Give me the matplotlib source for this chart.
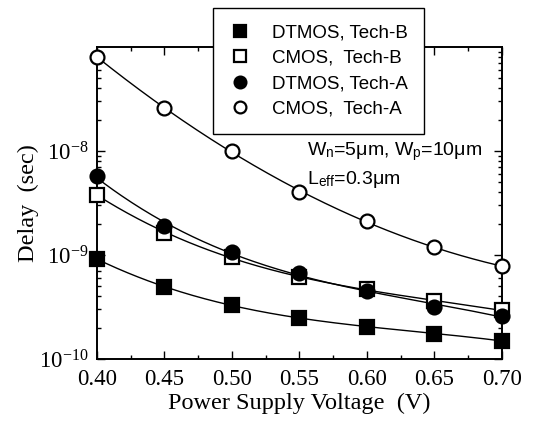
import numpy as np
import matplotlib
matplotlib.use("Agg")
import matplotlib.pyplot as plt
from matplotlib.ticker import LogLocator, MultipleLocator, FixedLocator

# supply voltage (V)
vdd = [0.40, 0.45, 0.50, 0.55, 0.60, 0.65, 0.70]

# delay (sec)
dtmos_b = [9.2e-10, 4.9e-10, 3.3e-10, 2.5e-10, 2.05e-10, 1.75e-10, 1.5e-10]
cmos_b = [3.8e-9, 1.63e-9, 9.6e-10, 6.1e-10, 4.7e-10, 3.6e-10, 2.95e-10]
dtmos_a = [5.7e-9, 1.9e-9, 1.07e-9, 6.7e-10, 4.5e-10, 3.2e-10, 2.6e-10]
cmos_a = [8.0e-8, 2.6e-8, 1.0e-8, 4.0e-9, 2.12e-9, 1.19e-9, 7.8e-10]

labels = ["DTMOS, Tech-B", "CMOS,  Tech-B", "DTMOS, Tech-A", "CMOS,  Tech-A"]
xticks = [0.40, 0.45, 0.50, 0.55, 0.60, 0.65, 0.70]

plt.rcParams["mathtext.fontset"] = "custom"
plt.rcParams["mathtext.rm"] = "Liberation Serif"
plt.rcParams["mathtext.it"] = "Liberation Serif:italic"
plt.rcParams["font.family"] = ["Liberation Serif", "DejaVu Serif"]

fig = plt.figure(figsize=(5.42, 4.28), dpi=100)
ax = fig.add_axes([0.179, 0.161, 0.747, 0.729])

series = [
    (dtmos_b, "s", "black"),
    (cmos_b, "s", "white"),
    (dtmos_a, "o", "black"),
    (cmos_a, "o", "white"),
]

handles = []
xs = np.linspace(0.40, 0.70, 200)
for (vals, mk, fc), lab in zip(series, labels):
    # smooth fit line through the points (log space), like the original
    coef = np.polyfit(vdd, np.log10(vals), 3)
    ax.plot(xs, 10 ** np.polyval(coef, xs), color="black", lw=1.0, zorder=2)
    h, = ax.plot(vdd, vals, linestyle="none", marker=mk, markersize=10,
                 markerfacecolor=fc, markeredgecolor="black",
                 markeredgewidth=1.6, clip_on=False, zorder=3, label=lab)
    handles.append(h)

ax.set_yscale("log")
ax.set_ylim(1e-10, 1e-7)
ax.set_xlim(0.40, 0.70)

ax.xaxis.set_major_locator(FixedLocator(xticks))
ax.xaxis.set_minor_locator(MultipleLocator(0.025))
ax.set_xticklabels(["%.2f" % v for v in xticks])
ax.yaxis.set_major_locator(FixedLocator([1e-10, 1e-9, 1e-8]))
ax.yaxis.set_minor_locator(LogLocator(base=10, subs=np.arange(2, 10)))
ax.set_yticklabels([r"$10^{-10}$", r"$10^{-9}$", r"$10^{-8}$"])
ax.yaxis.set_minor_formatter(plt.NullFormatter())

ax.tick_params(which="both", direction="in", top=True, right=True,
               labelsize=16.5, width=1)
ax.tick_params(axis="x", pad=7)
ax.tick_params(axis="y", pad=6)
ax.tick_params(which="major", length=6)
ax.tick_params(which="minor", length=3)
for s in ax.spines.values():
    s.set_linewidth(1.4)

ax.set_xlabel("Power Supply Voltage  (V)", fontsize=17.5, labelpad=2)
ax.set_ylabel("Delay  (sec)", fontsize=17.5, labelpad=0)

sans = ["Liberation Sans", "DejaVu Sans"]
ax.text(307 / 542, 1 - 152 / 428,
        r"W$_\mathregular{n}$=5μm, W$_\mathregular{p}$=10μm",
        transform=fig.transFigure, fontsize=14, family=sans,
        va="center", ha="left")
ax.text(307 / 542, 1 - 180 / 428, r"L$_\mathregular{eff}$=0.3μm",
        transform=fig.transFigure, fontsize=14, family=sans,
        va="center", ha="left")

leg = fig.legend(handles=handles, loc="upper left",
                 bbox_to_anchor=(213 / 542, 1 - 8 / 428),
                 prop={"family": "Liberation Sans", "size": 13.5},
                 frameon=True, fancybox=False, framealpha=1,
                 edgecolor="black", borderpad=0.85, labelspacing=0.45,
                 handletextpad=1.1, handlelength=1.2, borderaxespad=0)
leg.get_frame().set_linewidth(1.0)
for lh in leg.legend_handles:
    lh.set_markersize(8.5)

fig.savefig("out.png", dpi=100)
